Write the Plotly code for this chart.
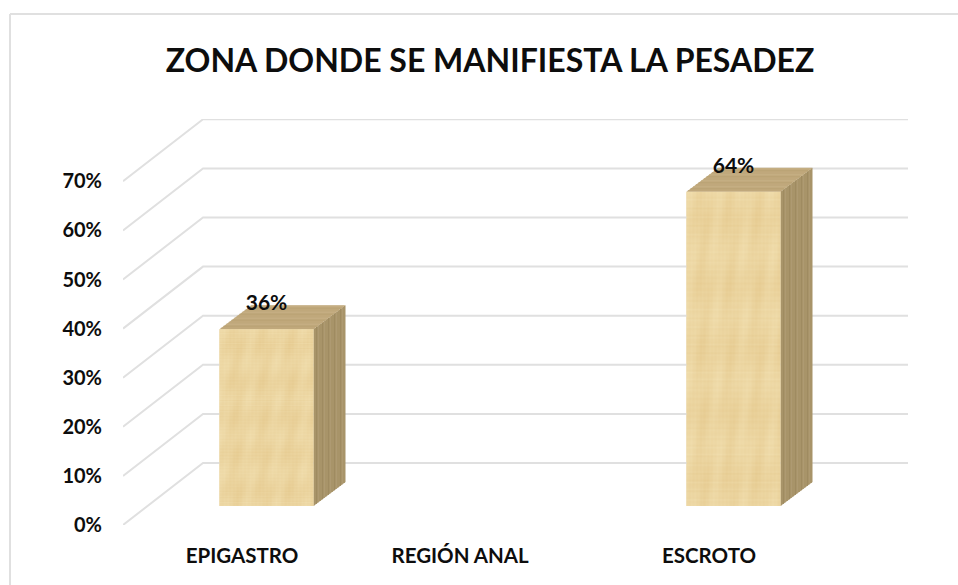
import base64
import struct
import zlib

import numpy as np
import plotly.graph_objects as go

TITLE = "ZONA DONDE SE MANIFIESTA LA PESADEZ"
categorias = ["EPIGASTRO", "REGIÓN ANAL", "ESCROTO"]
posiciones = [0, 0.934, 2]
valores = [36, 0, 64]
ticks_y = [0, 10, 20, 30, 40, 50, 60, 70]
etiquetas_y = ["0%", "10%", "20%", "30%", "40%", "50%", "60%", "70%"]

FONT = "Lato, Carlito, Arial, sans-serif"
TEXT = "#0D0D0D"
GRID = "#E0E0E0"
FRONT = "#E9D29C"
SIDE = ["#A89469", "#9F8B61", "#AE9A72"]
TOP = ["#C0A97C", "#BAA375", "#C6B085"]

# scale of the oblique projection, in axis units
PX_X = 233.5
PX_Y = 4.91
DEPTH_X = 80 / PX_X
DEPTH_Y = 62 / PX_Y
BAR_W = 94 / PX_X
BAR_OFF_X = 24.5 / PX_X
BAR_OFF_Y = 19 / PX_Y
BAR_DX = 32 / PX_X
BAR_DY = 24 / PX_Y
X_MIN = (123 - 242) / PX_X
X_MAX = (908 - 242) / PX_X
Y_MAX = 406 / PX_Y


def papyrus_png(w=94, h=180):
    """Woven texture, stretched over the front of each bar."""
    yy, xx = np.mgrid[0:h, 0:w]
    grain = (
        np.sin(xx * 1.7) * 0.25 + np.sin(xx * 2.9 + 1) * 0.2 + np.sin(xx * 0.23 + 1) * 0.5
        + np.sin(yy * 1.9) * 0.3 + np.sin(yy * 3.1 + 2) * 0.2 + np.sin(yy * 0.17 + 2) * 0.4
        + np.sin((xx * 0.4 + yy * 0.13)) * 0.3
    )
    grain = grain / np.abs(grain).max()
    rgba = np.zeros((h, w, 4), dtype=np.uint8)
    rgba[..., 0] = 236 + grain * 6
    rgba[..., 1] = 213 + grain * 11
    rgba[..., 2] = 160 + grain * 17
    rgba[..., 3] = 255
    raw = b"".join(b"\x00" + rgba[i].tobytes() for i in range(h))

    def chunk(tag, data):
        body = tag + data
        return struct.pack(">I", len(data)) + body + struct.pack(">I", zlib.crc32(body))

    png = (
        b"\x89PNG\r\n\x1a\n"
        + chunk(b"IHDR", struct.pack(">IIBBBBB", w, h, 8, 6, 0, 0, 0))
        + chunk(b"IDAT", zlib.compress(raw))
        + chunk(b"IEND", b"")
    )
    return "data:image/png;base64," + base64.b64encode(png).decode()


fig = go.Figure()

# gridlines: along the side wall, then along the back wall
for v in ticks_y:
    fig.add_trace(go.Scatter(
        x=[X_MIN, X_MIN + DEPTH_X, X_MAX],
        y=[v, v + DEPTH_Y, v + DEPTH_Y],
        mode="lines",
        line=dict(color=GRID, width=2),
        hoverinfo="skip",
        showlegend=False,
        cliponaxis=False,
    ))

# front face of the bars
bar_x = [p + BAR_OFF_X for p in posiciones]
fig.add_trace(go.Bar(
    x=bar_x,
    y=valores,
    base=BAR_OFF_Y,
    width=BAR_W,
    marker=dict(color=FRONT, line=dict(width=0)),
    showlegend=False,
))

images = []
png = papyrus_png()
for x, v in zip(bar_x, valores):
    if v == 0:
        continue
    left = x - BAR_W / 2
    right = x + BAR_W / 2
    low = BAR_OFF_Y
    high = BAR_OFF_Y + v

    # side face
    fig.add_trace(go.Scatter(
        x=[right, right + BAR_DX, right + BAR_DX, right, right],
        y=[low, low + BAR_DY, high + BAR_DY, high, low],
        mode="lines", fill="toself", fillcolor=SIDE[0], line=dict(width=0),
        hoverinfo="skip", showlegend=False,
    ))
    # top face
    fig.add_trace(go.Scatter(
        x=[left, left + BAR_DX, right + BAR_DX, right, left],
        y=[high, high + BAR_DY, high + BAR_DY, high, high],
        mode="lines", fill="toself", fillcolor=TOP[0], line=dict(width=0),
        hoverinfo="skip", showlegend=False,
    ))
    # grain on the side and top faces
    for i, color in enumerate(SIDE):
        xs, ys = [], []
        for k in range(i, 16, 3):
            f = (k + 0.5) / 16
            xs += [right + f * BAR_DX, right + f * BAR_DX, None]
            ys += [low + f * BAR_DY, high + f * BAR_DY, None]
        fig.add_trace(go.Scatter(
            x=xs, y=ys, mode="lines", line=dict(color=color, width=1),
            hoverinfo="skip", showlegend=False,
        ))
    for i, color in enumerate(TOP):
        xs, ys = [], []
        for k in range(i, 12, 3):
            f = (k + 0.5) / 12
            xs += [left + f * BAR_DX, right + f * BAR_DX, None]
            ys += [high + f * BAR_DY, high + f * BAR_DY, None]
        fig.add_trace(go.Scatter(
            x=xs, y=ys, mode="lines", line=dict(color=color, width=1),
            hoverinfo="skip", showlegend=False,
        ))

    images.append(dict(
        source=png, xref="x", yref="y", x=left, y=high,
        sizex=BAR_W, sizey=v, sizing="stretch",
        xanchor="left", yanchor="top", layer="above",
    ))

# data labels sit on the back edge of the top face
shown = [(x, v) for x, v in zip(bar_x, valores) if v > 0]
fig.add_trace(go.Scatter(
    x=[x for x, _ in shown],
    y=[BAR_OFF_Y + v + BAR_DY for _, v in shown],
    mode="text",
    text=[f"{v}%" for _, v in shown],
    textposition="middle center",
    textfont=dict(family=FONT, size=21, color=TEXT, weight="bold"),
    hoverinfo="skip",
    showlegend=False,
))

fig.update_layout(
    width=958,
    height=585,
    margin=dict(l=123, r=50, t=119, b=60),
    paper_bgcolor="white",
    plot_bgcolor="white",
    font=dict(family=FONT, color=TEXT),
    images=images,
    title=dict(
        text=TITLE,
        font=dict(family=FONT, size=32, color=TEXT, weight="bold"),
        x=490 / 958,
        xanchor="center",
        xref="container",
        y=1 - 61 / 585,
        yanchor="middle",
        yref="container",
    ),
    xaxis=dict(
        range=[X_MIN, X_MAX],
        tickvals=posiciones,
        ticktext=categorias,
        showgrid=False,
        zeroline=False,
        showline=False,
        ticks="outside",
        ticklen=12,
        tickcolor="rgba(0,0,0,0)",
        tickfont=dict(family=FONT, size=20.5, color=TEXT, weight="bold"),
    ),
    yaxis=dict(
        range=[0, Y_MAX],
        tickvals=ticks_y,
        ticktext=etiquetas_y,
        showgrid=False,
        zeroline=False,
        showline=False,
        ticks="outside",
        ticklen=16,
        tickcolor="rgba(0,0,0,0)",
        tickfont=dict(family=FONT, size=20, color=TEXT, weight="bold"),
    ),
    shapes=[
        dict(type="line", xref="paper", yref="paper",
             x0=(10 - 123) / 785, x1=(958 - 123) / 785,
             y0=(525 - 14) / 406, y1=(525 - 14) / 406,
             line=dict(color=GRID, width=2)),
        dict(type="line", xref="paper", yref="paper",
             x0=(10 - 123) / 785, x1=(10 - 123) / 785,
             y0=(525 - 14) / 406, y1=(525 - 585) / 406,
             line=dict(color=GRID, width=2)),
    ],
)

fig.write_html(
    "out.html",
    config=dict(displayModeBar=False),
    post_script="document.body.style.margin='0';",
)
